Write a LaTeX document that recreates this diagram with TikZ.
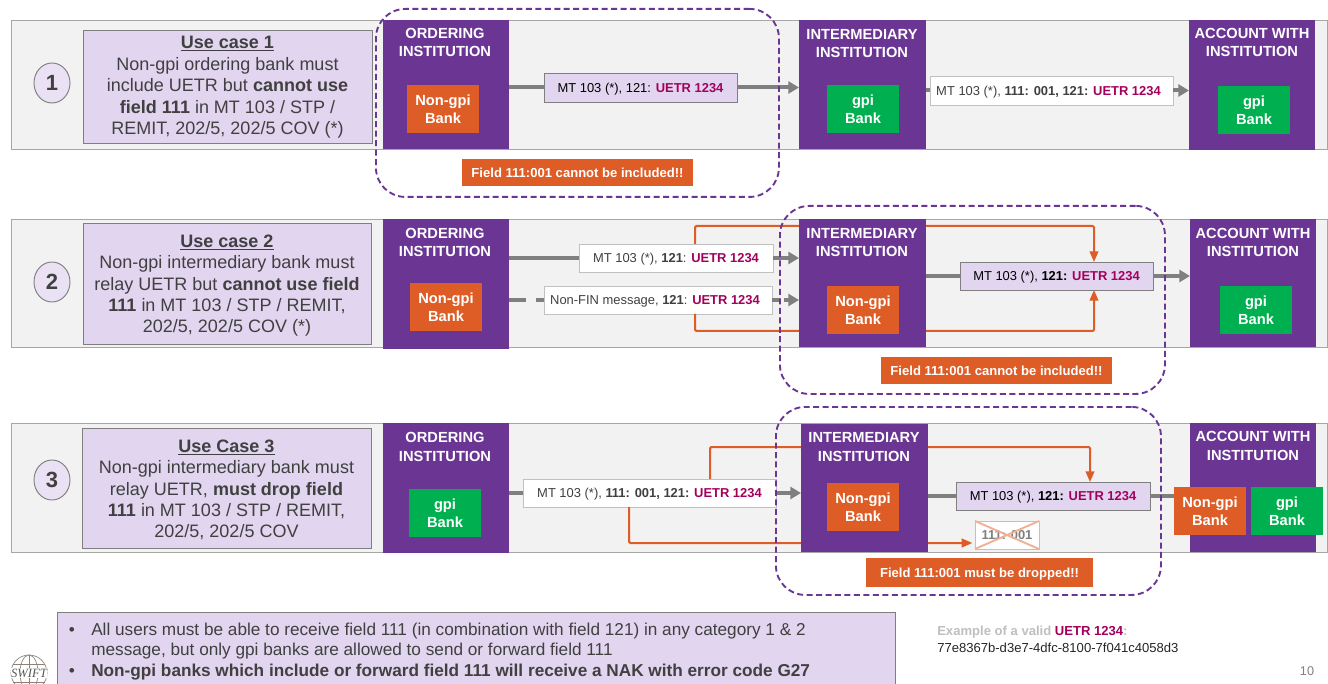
\documentclass[tikz,border=0pt]{standalone}
\usepackage{fontspec}
\setmainfont{Liberation Sans}
\newfontfamily\logofont{Liberation Serif}
\usetikzlibrary{arrows.meta,shapes.geometric}
\definecolor{band}{HTML}{F2F2F2}
\definecolor{bandline}{HTML}{A6A6A6}
\definecolor{lilac}{HTML}{E1D5EF}
\definecolor{inst}{HTML}{6A3593}
\definecolor{orng}{HTML}{DE5D26}
\definecolor{grn}{HTML}{00B050}
\definecolor{uetrc}{HTML}{A3005C}
\definecolor{txt}{HTML}{404040}
\definecolor{flow}{HTML}{7F7F7F}
\definecolor{cross}{HTML}{F0B094}
\definecolor{logoc}{HTML}{8C8278}
\newcommand{\uetr}{{\bfseries\color{uetrc}UETR 1234}}
\newcommand{\fs}[1]{\fontsize{#1}{#1}\selectfont}
\newcommand{\rct}[7]{%
  \pgfmathsetmacro{\rw}{0.75*(#5-#3)}\pgfmathsetmacro{\rh}{0.75*(#6-#4)}%
  \node[#2,anchor=north west,minimum width=\rw pt,minimum height=\rh pt] (#1) at (#3,#4) {#7};}
\tikzset{
  x=0.75pt,y=-0.75pt,
  rectbox/.style={inner sep=0pt,outer sep=0pt,rectangle},
  bandbox/.style={rectbox,fill=band,draw=bandline,line width=0.7pt},
  casebox/.style={rectbox,fill=lilac,draw=flow,line width=0.6pt},
  casetext/.style={inner sep=0pt,text=txt,align=center,font=\fontsize{13.5}{16.1}\selectfont},
  instbox/.style={rectbox,fill=inst},
  instlabel/.style={inner sep=0pt,text=white,align=center,font=\fontsize{11}{13.8}\selectfont\bfseries},
  bankbox/.style={rectbox,text=white,align=center,font=\fontsize{11}{13.8}\selectfont\bfseries},
  nongpi/.style={bankbox,fill=orng},
  gpi/.style={bankbox,fill=grn},
  msgbox/.style={rectbox,fill=lilac,draw=flow,line width=0.6pt,text=black,font=\fs{9.7},text depth=0pt},
  whitebox/.style={rectbox,fill=white,draw=bandline!70,line width=0.7pt,text=txt,font=\fs{9.7},text depth=0pt},
  warnbox/.style={rectbox,fill=orng,text=white,font=\fs{9.8}\bfseries,text depth=0pt},
  casenum/.style={ellipse,fill=lilac!70!white,draw=flow,line width=0.7pt,minimum width=27pt,minimum height=30pt,inner sep=0pt,text=txt,font=\fs{16.5}\bfseries},
  scopeline/.style={draw=inst,line width=1.4pt,dash pattern=on 4.5pt off 2.6pt,rounded corners=22pt},
  flowline/.style={draw=flow,line width=3pt},
  flowarrow/.style={flowline,-{Triangle[length=8pt,width=9pt]}},
  orline/.style={draw=orng,line width=1.5pt,-{Triangle[length=8pt,width=6.5pt]},rounded corners=1pt},
  crossline/.style={draw=cross,line width=1.4pt},
  notetext/.style={anchor=west,inner sep=0pt,text=txt,font=\fs{12.9}},
}
\begin{document}
\begin{tikzpicture}
\useasboundingbox (0,0) rectangle (1328,684);
\clip (0,0) rectangle (1328,684);
\fill[white] (0,0) rectangle (1328,684);

% ---------- row 1
\rct{b1}{bandbox}{11}{20}{1327}{149}{}
\rct{c1}{casebox}{83}{30}{372}{143}{}
\node[casetext,yshift=-0.6pt] (ct1) at (c1) {\underline{\bfseries Use case 1}\\Non-gpi ordering bank must\\include UETR but {\bfseries cannot use}\\{\bfseries field 111} in MT 103 / STP /\\REMIT, 202/5, 202/5 COV (*)};
\node[casenum] (n1) at (52,83) {1};
\rct{m1}{msgbox}{544}{73}{737}{102}{MT 103 (*), 121: \uetr}
\rct{w1}{whitebox}{930}{76}{1173}{105}{MT 103 (*), {\bfseries 111: 001, 121:} \uetr\kern4.5pt}
\rct{o1}{instbox}{383}{20}{509}{149}{}
\rct{i1}{instbox}{799}{20}{926}{149}{}
\rct{a1}{instbox}{1189}{20}{1315}{150}{}
\draw[flowline] (o1.east |- m1.west) -- (m1.west);
\draw[flowarrow] (m1.east) -- (m1.east -| i1.west);
\draw[flowline] (i1.east |- w1.west) -- (w1.west);
\draw[flowarrow] (w1.east) -- (w1.east -| a1.west);
\node[instlabel] (ol1) at (445,42.5) {ORDERING\\INSTITUTION};
\node[instlabel] (il1) at (862,43.5) {INTERMEDIARY\\INSTITUTION};
\node[instlabel] (al1) at (1252,42.5) {ACCOUNT WITH\\INSTITUTION};
\rct{bo1}{nongpi}{407}{85}{479}{133}{Non-gpi\\Bank}
\rct{bi1}{gpi}{827}{85}{899}{133}{gpi\\Bank}
\rct{ba1}{gpi}{1218}{86}{1290}{134}{gpi\\Bank}
\rct{f1}{warnbox}{462}{159}{693}{186}{Field 111:001 cannot be included!!}
\rct{s1}{scopeline}{375}{8}{778}{196}{}

% ---------- row 2
\rct{b2}{bandbox}{11}{219}{1327}{347}{}
\rct{c2}{casebox}{83}{223}{371}{344}{}
\node[casetext,yshift=-1.6pt] (ct2) at (c2) {\underline{\bfseries Use case 2}\\Non-gpi intermediary bank must\\relay UETR but {\bfseries cannot use field}\\{\bfseries 111} in MT 103 / STP / REMIT,\\202/5, 202/5 COV (*)};
\node[casenum] (n2) at (52,282) {2};
\rct{m2a}{whitebox}{579}{244}{773}{272}{MT 103 (*), {\bfseries 121}: \uetr}
\rct{m2b}{whitebox}{544}{286}{772}{314}{Non-FIN message, {\bfseries 121}: \uetr\kern4.5pt}
\rct{p2}{msgbox}{960}{262}{1153}{290}{MT 103 (*), {\bfseries 121:} \uetr}
\coordinate (u2a) at (695,226);
\coordinate (u2b) at (1094,226);
\coordinate (d2a) at (695,331);
\coordinate (d2b) at (1094,331);
\draw[orline] (u2a |- m2a.north) -- (u2a) -- (u2b) -- (u2b |- p2.north);
\draw[orline] (d2a |- m2b.south) -- (d2a) -- (d2b) -- (d2b |- p2.south);
\rct{o2}{instbox}{383}{219}{509}{349}{}
\rct{i2}{instbox}{799}{219}{926}{347}{}
\rct{a2}{instbox}{1190}{219}{1316}{347}{}
\draw[flowline] (o2.east |- m2a.west) -- (m2a.west);
\draw[flowarrow] (m2a.east) -- (m2a.east -| i2.west);
\draw[flowline,dash pattern=on 13pt off 7pt] (o2.east |- m2b.west) -- (m2b.west);
\draw[flowarrow,dash pattern=on 6pt off 3pt] (m2b.east) -- (m2b.east -| i2.west);
\draw[flowline] (i2.east |- p2.west) -- (p2.west);
\draw[flowarrow] (p2.east) -- (p2.east -| a2.west);
\node[instlabel] (ol2) at (445,242.5) {ORDERING\\INSTITUTION};
\node[instlabel] (il2) at (862,242.5) {INTERMEDIARY\\INSTITUTION};
\node[instlabel] (al2) at (1253,242.5) {ACCOUNT WITH\\INSTITUTION};
\rct{bo2}{nongpi}{410}{283}{482}{331}{Non-gpi\\Bank}
\rct{bi2}{nongpi}{827}{286}{899}{334}{Non-gpi\\Bank}
\rct{ba2}{gpi}{1220}{286}{1292}{334}{gpi\\Bank}
\rct{f2}{warnbox}{881}{357}{1112}{384}{Field 111:001 cannot be included!!}
\rct{s2}{scopeline}{779}{205}{1164}{393}{}

% ---------- row 3
\rct{b3}{bandbox}{11}{423}{1327}{552}{}
\rct{c3}{casebox}{82}{428}{371}{548}{}
\node[casetext,yshift=-1.4pt] (ct3) at (c3) {\underline{\bfseries Use Case 3}\\Non-gpi intermediary bank must\\relay UETR, {\bfseries must drop field}\\{\bfseries 111} in MT 103 / STP / REMIT,\\202/5, 202/5 COV};
\node[casenum] (n3) at (52,480) {3};
\rct{m3}{whitebox}{523}{479}{776}{507}{MT 103 (*), {\bfseries 111: 001, 121:} \uetr}
\rct{p3}{msgbox}{956}{482}{1150}{510}{MT 103 (*), {\bfseries 121:} \uetr}
\rct{x3}{whitebox,text=flow}{975}{521}{1039}{549}{\bfseries 111: 001}
\coordinate (u3a) at (710,447);
\coordinate (u3b) at (1090,447);
\coordinate (d3a) at (629,543);
\draw[orline] (u3a |- m3.north) -- (u3a) -- (u3b) -- (u3b |- p3.north);
\draw[orline,shorten >=2pt] (d3a |- m3.south) -- (d3a) -- (d3a -| x3.west);
\draw[crossline] (x3.north west) -- (x3.south east);
\draw[crossline] (x3.south west) -- (x3.north east);
\rct{o3}{instbox}{383}{423}{509}{553}{}
\rct{i3}{instbox}{801}{424}{928}{552}{}
\rct{a3}{instbox}{1190}{423}{1316}{552}{}
\draw[flowline] (o3.east |- m3.west) -- (m3.west);
\draw[flowarrow] (m3.east) -- (m3.east -| i3.west);
\draw[flowline] (i3.east |- p3.west) -- (p3.west);
\node[instlabel] (ol3) at (445,447) {ORDERING\\INSTITUTION};
\node[instlabel] (il3) at (864,447) {INTERMEDIARY\\INSTITUTION};
\node[instlabel] (al3) at (1253,446) {ACCOUNT WITH\\INSTITUTION};
\rct{bo3}{gpi}{409}{489}{481}{537}{gpi\\Bank}
\rct{bi3}{nongpi}{827}{483}{899}{531}{Non-gpi\\Bank}
\rct{ba3}{nongpi}{1174}{487}{1246}{535}{Non-gpi\\Bank}
\rct{bb3}{gpi}{1251}{487}{1323}{535}{gpi\\Bank}
\draw[flowline] (p3.east) -- (p3.east -| ba3.west);
\rct{f3}{warnbox}{866}{558}{1093}{587}{Field 111:001 must be dropped!!}
\rct{s3}{scopeline}{775}{406}{1160}{594}{}

% ---------- notes
\rct{note}{rectbox,fill=lilac,draw=flow,line width=0.6pt}{57}{612}{895}{690}{}
\node[notetext] (t1) at (91,631.5) {All users must be able to receive field 111 (in combination with field 121) in any category 1 \& 2};
\node[notetext] (t2) at (91,651.5) {message, but only gpi banks are allowed to send or forward field 111};
\node[notetext,font=\fs{12.9}\bfseries] (t3) at (91,672.5) {Non-gpi banks which include or forward field 111 will receive a NAK with error code G27};
\node[inner sep=0pt,text=txt,font=\fs{12.9}] (d1) at (72,631.5) {•};
\node[inner sep=0pt,text=txt,font=\fs{12.9}] (d3) at (72,672.5) {•};
\node[anchor=west,inner sep=0pt,font=\fs{9.8}\bfseries,text=black!25] (e1) at (937,632) {Example of a valid \uetr:};
\node[anchor=west,inner sep=0pt,font=\fs{9.8},text=black!85] (e2) at (937,648) {77e8367b-d3e7-4dfc-8100-7f041c4058d3};
\node[inner sep=0pt,font=\fs{9.5},text=black!50] (pg) at (1307,671) {10};

% ---------- logo
\begin{scope}[draw=logoc,line width=0.5pt]
\draw (29,673) circle [radius=18];
\draw (29,673) ellipse [x radius=9,y radius=18];
\draw (29,655) -- (29,691);
\draw (13,664) -- (45,664);
\draw (13,682) -- (45,682);
\end{scope}
\node[fill=white,inner sep=0.3pt,font=\logofont\fontsize{9.5}{9.5}\selectfont\itshape,text=black!65] (logo) at (29,673) {SWIFT};
\end{tikzpicture}
\end{document}
